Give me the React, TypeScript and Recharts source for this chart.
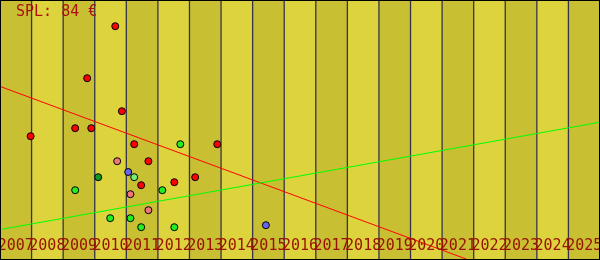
import {
  ComposedChart,
  Scatter,
  XAxis,
  YAxis,
  ReferenceArea,
  ReferenceLine,
} from "recharts";

const YEARS = [
  2007, 2008, 2009, 2010, 2011, 2012, 2013, 2014, 2015, 2016, 2017, 2018, 2019,
  2020, 2021, 2022, 2023, 2024, 2025,
];

const redPoints = [
  { x: 2010.65, y: 116.9 },
  { x: 2009.76, y: 90.9 },
  { x: 2010.86, y: 74.4 },
  { x: 2007.97, y: 61.9 },
  { x: 2009.38, y: 65.9 },
  { x: 2009.89, y: 65.9 },
  { x: 2011.25, y: 57.9 },
  { x: 2013.88, y: 57.9 },
  { x: 2011.7, y: 49.4 },
  { x: 2013.18, y: 41.4 },
  { x: 2012.52, y: 38.9 },
  { x: 2011.47, y: 37.4 },
];

const greenPoints = [
  { x: 2012.71, y: 57.9 },
  { x: 2009.38, y: 34.9 },
  { x: 2012.14, y: 34.9 },
  { x: 2010.49, y: 20.9 },
  { x: 2011.13, y: 20.9 },
  { x: 2011.47, y: 16.4 },
  { x: 2012.52, y: 16.4 },
];

const darkGreenPoints = [{ x: 2010.11, y: 41.4 }];
const lightGreenPoints = [{ x: 2011.25, y: 41.4 }];

const pinkPoints = [
  { x: 2010.71, y: 49.4 },
  { x: 2011.13, y: 32.9 },
  { x: 2011.7, y: 24.9 },
];

const bluePoints = [
  { x: 2011.06, y: 44 },
  { x: 2015.42, y: 17.4 },
];

const redTrend = [
  { x: 2007, y: 86.8 },
  { x: 2021.76, y: 0.5 },
];

const greenTrend = [
  { x: 2007, y: 15.2 },
  { x: 2026, y: 68.9 },
];

const TICKS = YEARS.map((y) => y + 0.5);

const dot = (color: string) => (props: any) => (
  <circle cx={props.cx} cy={props.cy} r={3.5} fill={color} stroke="#000" strokeWidth={1} />
);

function YearTick({ x, payload }: any) {
  return (
    <text
      x={x}
      y={250}
      textAnchor="middle"
      fill="#991100"
      style={{ fontFamily: "DejaVu Sans Mono", fontSize: 15 }}
    >
      {Math.floor(payload.value)}
    </text>
  );
}

export default function App() {
  return (
    <div style={{ position: "fixed", left: 0, top: 0, width: 600, height: 260 }}>
      <ComposedChart width={600} height={260} margin={{ top: 0, right: 0, left: 0, bottom: 0 }}>
        <XAxis
          type="number"
          dataKey="x"
          domain={[2007, 2026]}
          ticks={TICKS}
          interval={0}
          height={1}
          axisLine={false}
          tickLine={false}
          tick={<YearTick />}
          allowDataOverflow
        />
        <YAxis type="number" dataKey="y" domain={[0.5, 130]} hide allowDataOverflow />
        {YEARS.map((y, i) => (
          <ReferenceArea
            key={"b" + y}
            x1={y}
            x2={y + 1}
            y1={0.5}
            y2={130}
            fill={i % 2 === 0 ? "#c9bf33" : "#dcd33d"}
            fillOpacity={1}
            stroke="none"
          />
        ))}
        {YEARS.slice(1).map((y) => (
          <ReferenceLine key={"l" + y} x={y} stroke="#34344a" strokeWidth={1.3} />
        ))}
        <ReferenceLine segment={redTrend} stroke="#ff0000" strokeWidth={1} />
        <ReferenceLine segment={greenTrend} stroke="#00ff00" strokeWidth={1} />
        <Scatter data={redPoints} shape={dot("#ff0000")} isAnimationActive={false} />
        <Scatter data={greenPoints} shape={dot("#22ee22")} isAnimationActive={false} />
        <Scatter data={darkGreenPoints} shape={dot("#119922")} isAnimationActive={false} />
        <Scatter data={lightGreenPoints} shape={dot("#77ee77")} isAnimationActive={false} />
        <Scatter data={pinkPoints} shape={dot("#ee7777")} isAnimationActive={false} />
        <Scatter data={bluePoints} shape={dot("#6666ee")} isAnimationActive={false} />
      </ComposedChart>
      <div
        style={{
          position: "absolute",
          left: 16,
          top: 3,
          color: "#aa1111",
          fontFamily: "DejaVu Sans Mono",
          fontSize: 15,
          lineHeight: "17px",
          whiteSpace: "pre",
        }}
      >
        SPL: 84 €
      </div>
      <div
        style={{
          position: "absolute",
          left: 0,
          top: 0,
          width: 600,
          height: 260,
          boxSizing: "border-box",
          border: "1px solid #000",
          pointerEvents: "none",
        }}
      />
    </div>
  );
}
